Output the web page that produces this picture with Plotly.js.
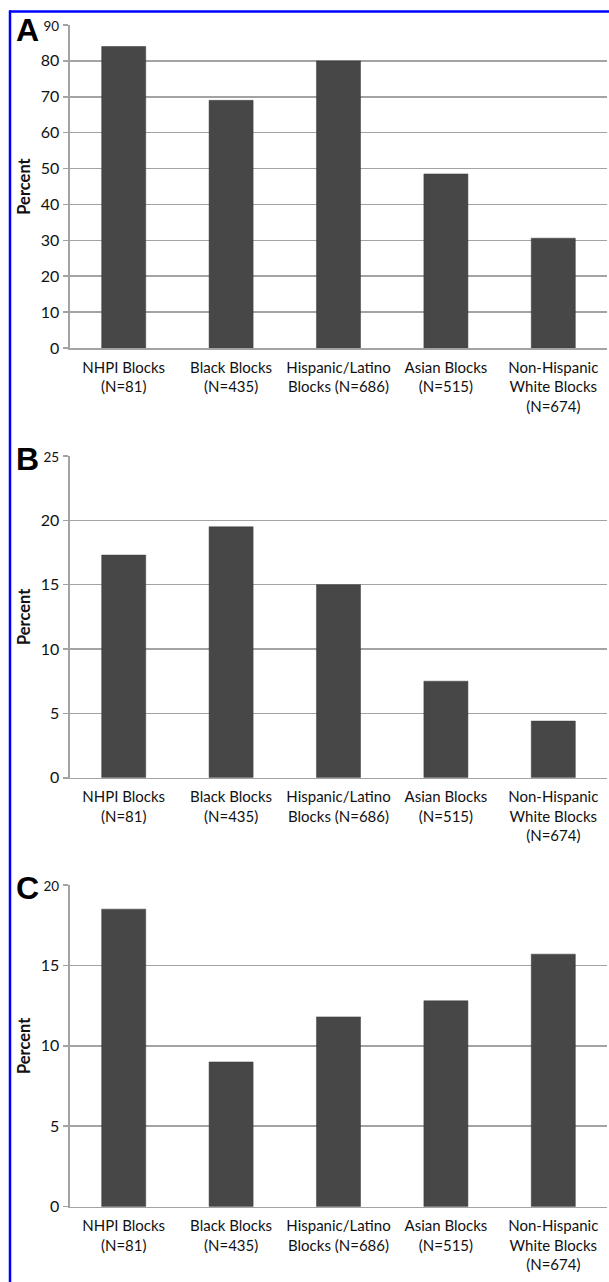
<!DOCTYPE html>
<html>
<head>
<meta charset="utf-8">
<script src="https://cdn.plot.ly/plotly-3.0.1.min.js"></script>
<style>
html,body{margin:0;padding:0;background:#fff;}
#chart{width:609px;height:1282px;}
</style>
</head>
<body>
<div id="chart"></div>
<script>
var categories = ['NHPI Blocks<br>(N=81)', 'Black Blocks<br>(N=435)', 'Hispanic/Latino<br>Blocks (N=686)', 'Asian Blocks<br>(N=515)', 'Non-Hispanic<br>White Blocks<br>(N=674)'];
var panelA = [84, 69, 80, 48.5, 30.6];
var panelB = [17.3, 19.5, 15.0, 7.5, 4.4];
var panelC = [18.5, 9.0, 11.8, 12.8, 15.7];
var ticksA = [0, 10, 20, 30, 40, 50, 60, 70, 80, 90];
var ticksB = [0, 5, 10, 15, 20, 25];
var ticksC = [0, 5, 10, 15, 20];
var panelLetters = ['A', 'B', 'C'];

var W = 609, H = 1282, L = 70, R = 2;
var plotW = W - L - R;
function fy(px){ return 1 - px / H; }
function fx(px){ return (px - L) / plotW; }

var barColor = '#474747';
var gridColor = '#a3a3a3';
var xFont = {family: 'Lato, sans-serif', size: 15, color: '#111'};
var yFont = {family: 'Lato, sans-serif', size: 16, color: '#111'};

function tickText(vals){
  return vals.map(function(v, i){
    return i === vals.length - 1 ? '<span style="font-size:13.5px">' + v + '</span>' : String(v);
  });
}

function bar(vals, xa, ya){
  return {type: 'bar', x: categories, y: vals, xaxis: xa, yaxis: ya,
    marker: {color: barColor, line: {color: '#3a3a3a', width: 0.5}}, hoverinfo: 'none', showlegend: false};
}

function yax(domain, ticks, anchor){
  return {domain: domain, range: [0, ticks[ticks.length - 1]], tickvals: ticks, ticktext: tickText(ticks),
    showgrid: true, gridcolor: gridColor, gridwidth: 1.6, zeroline: false,
    showline: true, linecolor: gridColor, linewidth: 1.6, ticks: 'outside', ticklen: 5, tickcolor: gridColor, tickwidth: 1.6,
    tickfont: yFont, ticklabelstandoff: 1, anchor: anchor, fixedrange: true,
    title: {text: '<b>Percent</b>', font: {family: 'Lato, sans-serif', size: 16.5, color: '#111'}, standoff: 6}};
}
function xax(anchor){
  return {anchor: anchor, domain: [0, 1], showline: true, linecolor: gridColor, linewidth: 1.6,
    ticks: '', tickfont: xFont, tickangle: 0, ticklabelstandoff: 5, fixedrange: true, showgrid: false};
}

var data = [bar(panelA, 'x', 'y'), bar(panelB, 'x2', 'y2'), bar(panelC, 'x3', 'y3')];

var letterY = [29.5, 459, 888];
var annotations = panelLetters.map(function(t, i){
  return {text: '<b>' + t + '</b>', xref: 'paper', yref: 'paper', x: fx(27.5), y: fy(letterY[i]),
    xanchor: 'center', yanchor: 'middle', showarrow: false,
    font: {family: 'Liberation Sans, Arial, sans-serif', size: 32, color: '#000'}};
});

var layout = {
  width: W, height: H,
  margin: {l: L, r: R, t: 0, b: 0},
  paper_bgcolor: '#fff', plot_bgcolor: '#fff',
  bargap: 0.59,
  xaxis: xax('y'), xaxis2: xax('y2'), xaxis3: xax('y3'),
  yaxis: yax([fy(348), fy(25)], ticksA, 'x'),
  yaxis2: yax([fy(777.7), fy(456)], ticksB, 'x2'),
  yaxis3: yax([fy(1206.7), fy(885)], ticksC, 'x3'),
  annotations: annotations,
  shapes: [
    {type: 'line', xref: 'paper', yref: 'paper', x0: fx(9), x1: fx(612), y0: fy(11.5), y1: fy(11.5), line: {color: '#0000ff', width: 2.5}},
    {type: 'line', xref: 'paper', yref: 'paper', x0: fx(10), x1: fx(10), y0: fy(10.5), y1: fy(1290), line: {color: '#0000ff', width: 2.5}}
  ]
};

Plotly.newPlot('chart', data, layout, {displayModeBar: false, staticPlot: true});
</script>
</body>
</html>
